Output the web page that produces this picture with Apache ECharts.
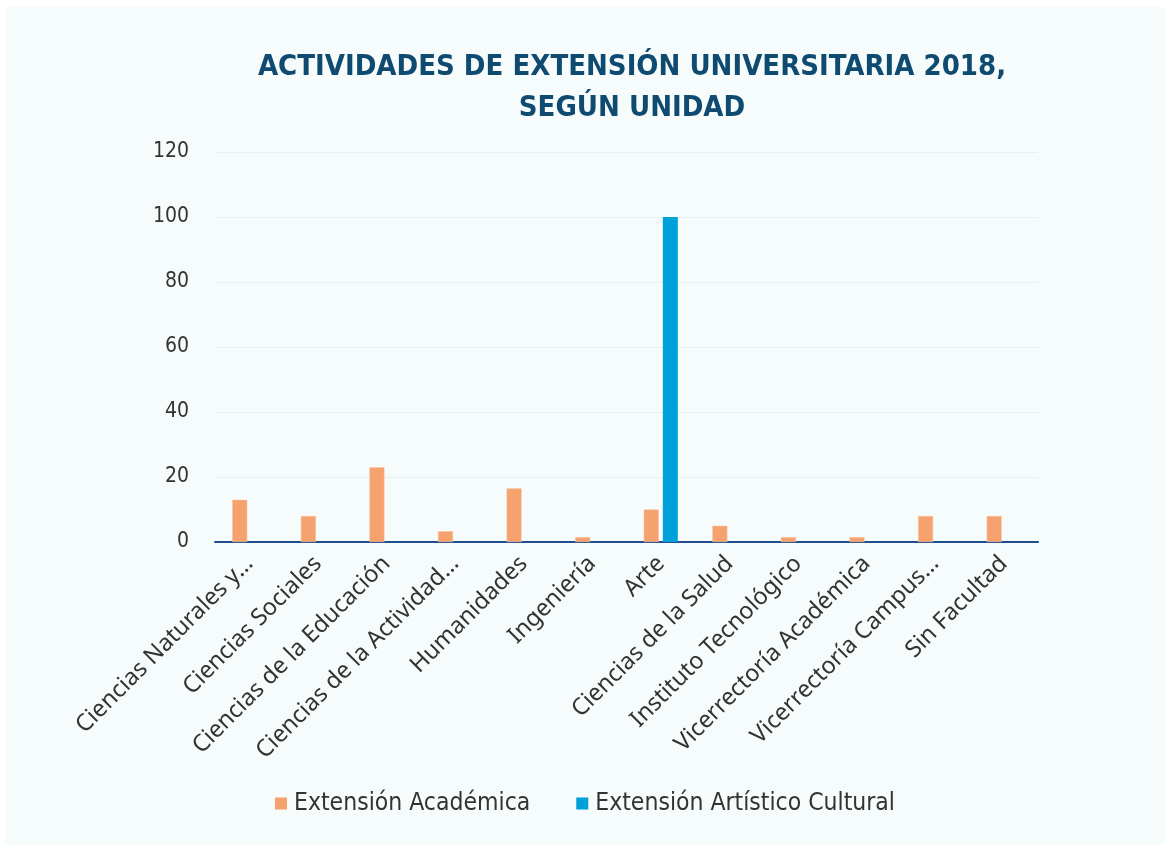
<!DOCTYPE html>
<html>
<head>
<meta charset="utf-8">
<script src="https://cdn.jsdelivr.net/npm/echarts@6/dist/echarts.min.js"></script>
<style>
  html, body { margin: 0; padding: 0; background: #ffffff; }
  .panel { position: absolute; left: 5px; top: 7px; width: 1160px; height: 838px; background: #F6FBFC; border-radius: 3px; }
  #chart { position: absolute; left: 0; top: 0; width: 1170px; height: 850px; }
</style>
</head>
<body>
<div class="panel"></div>
<div id="chart"></div>
<script>
  // categorías (tal como aparecen, truncadas)
  const categories = [
    'Ciencias Naturales y…', 'Ciencias Sociales', 'Ciencias de la Educación',
    'Ciencias de la Actividad…', 'Humanidades', 'Ingeniería', 'Arte',
    'Ciencias de la Salud', 'Instituto Tecnológico', 'Vicerrectoría Académica',
    'Vicerrectoría Campus…', 'Sin Facultad'
  ];
  const academica = [13, 8, 23, 3.3, 16.5, 1.5, 10, 5, 1.5, 1.5, 8, 8];
  const artistica = [null, null, null, null, null, null, 100, null, null, null, null, null];
  const seriesNames = ['Extensión Académica', 'Extensión Artístico Cultural'];
  const yTicks = { min: 0, max: 120, interval: 20 };

  const narrow = '"DejaVu Sans Condensed", "Liberation Sans Narrow", sans-serif';

  const chart = echarts.init(document.getElementById('chart'));
  chart.setOption({
    backgroundColor: 'transparent',
    title: {
      text: 'ACTIVIDADES DE EXTENSIÓN UNIVERSITARIA 2018,\nSEGÚN UNIDAD',
      left: 627,
      textAlign: 'center',
      top: 42,
      textStyle: {
        color: '#0F4A70',
        fontSize: 29,
        fontWeight: 'bold',
        fontFamily: narrow,
        lineHeight: 41
      }
    },
    legend: {
      data: seriesNames,
      bottom: 29,
      left: 'center',
      itemWidth: 12,
      itemHeight: 12,
      itemGap: 46,
      icon: 'rect',
      itemStyle: { borderWidth: 0 },
      textStyle: { color: '#333333', fontSize: 24.5, fontFamily: narrow, padding: [0, 0, 0, 2] }
    },
    grid: { left: 215, right: 132, top: 152, bottom: 308 },
    xAxis: {
      type: 'category',
      data: categories,
      axisLine: { lineStyle: { color: '#1F4E8C', width: 2 } },
      axisTick: { show: false },
      axisLabel: {
        rotate: 45,
        interval: 0,
        margin: 18,
        color: '#333333',
        fontSize: 23.5,
        fontFamily: '"Noto Sans", "Open Sans", sans-serif'
      }
    },
    yAxis: {
      type: 'value',
      min: yTicks.min,
      max: yTicks.max,
      interval: yTicks.interval,
      axisLine: { show: false },
      axisTick: { show: false },
      axisLabel: { color: '#333333', fontSize: 21, fontFamily: narrow, margin: 26 },
      splitLine: { lineStyle: { color: '#E9F0F1', width: 1 } }
    },
    series: [
      {
        name: seriesNames[0],
        type: 'bar',
        data: academica,
        barWidth: 15,
        barGap: '27%',
        itemStyle: { color: '#F5A26F', borderColor: '#F8C3A0', borderWidth: 0.5 }
      },
      {
        name: seriesNames[1],
        type: 'bar',
        data: artistica,
        barWidth: 15,
        itemStyle: { color: '#00A1DA' }
      }
    ]
  });
</script>
</body>
</html>
